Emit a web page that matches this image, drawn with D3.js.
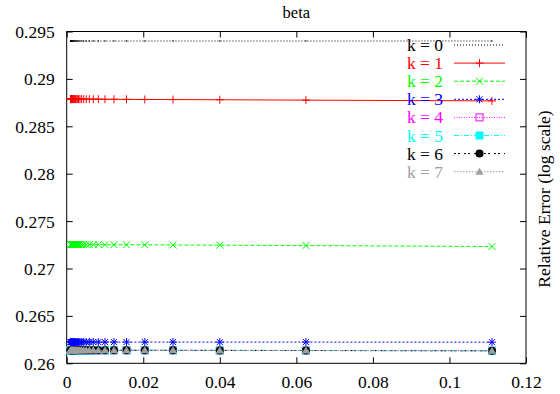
<!DOCTYPE html>
<html>
<head>
<meta charset="utf-8">
<script src="https://cdn.jsdelivr.net/npm/d3@7"></script>
<style>
  html, body { margin: 0; padding: 0; background: #fff; }
  svg { display: block; }
  svg text { font-family: "Liberation Serif", "Times New Roman", serif !important; }
</style>
</head>
<body>
<svg id="chart" width="560" height="394"></svg>
<script>
// ---- data ----
const title = "beta";
const yLabel = "Relative Error (log scale)";
const xTicks = [0, 0.02, 0.04, 0.06, 0.08, 0.1, 0.12];
const xTickLabels = ["0", "0.02", "0.04", "0.06", "0.08", "0.1", "0.12"];
const yTicks = [0.26, 0.265, 0.27, 0.275, 0.28, 0.285, 0.29, 0.295];
const yTickLabels = ["0.26", "0.265", "0.27", "0.275", "0.28", "0.285", "0.29", "0.295"];

const xValues = [0.11111, 0.0625, 0.04, 0.027778, 0.020408, 0.015625, 0.012346, 0.01,
  0.0082645, 0.0069444, 0.0059172, 0.0051020, 0.0044444, 0.0039063, 0.0034602, 0.0030864,
  0.0027701, 0.0025, 0.0022676, 0.0020661, 0.0018904, 0.0017361, 0.0016, 0.0014793,
  0.0013717, 0.0012755, 0.0011891, 0.0011111, 0.0010406, 0.00097656];

const seriesNames = ["k = 0", "k = 1", "k = 2", "k = 3", "k = 4", "k = 5", "k = 6", "k = 7"];

const k0 = [0.2940, 0.2940, 0.2940, 0.2940, 0.2940, 0.2940, 0.2940, 0.2940, 0.2940, 0.2940,
  0.2940, 0.2940, 0.2940, 0.2940, 0.2940, 0.2940, 0.2940, 0.2940, 0.2940, 0.2940,
  0.2940, 0.2940, 0.2940, 0.2940, 0.2940, 0.2940, 0.2940, 0.2940, 0.2940, 0.2940];
const k1 = [0.28768, 0.28776, 0.28780, 0.28782, 0.28783, 0.28784, 0.28785, 0.28785, 0.28786, 0.28786,
  0.28786, 0.28786, 0.28786, 0.28786, 0.28786, 0.28787, 0.28787, 0.28787, 0.28787, 0.28787,
  0.28787, 0.28787, 0.28787, 0.28787, 0.28787, 0.28787, 0.28787, 0.28787, 0.28787, 0.28787];
const k2 = [0.27232, 0.27242, 0.27246, 0.27248, 0.27250, 0.27250, 0.27251, 0.27251, 0.27252, 0.27252,
  0.27252, 0.27252, 0.27252, 0.27252, 0.27253, 0.27253, 0.27253, 0.27253, 0.27253, 0.27253,
  0.27253, 0.27253, 0.27253, 0.27253, 0.27253, 0.27253, 0.27253, 0.27253, 0.27253, 0.27253];
const k3 = [0.26223, 0.26224, 0.26224, 0.26224, 0.26224, 0.26224, 0.26224, 0.26224, 0.26224, 0.26224,
  0.26224, 0.26224, 0.26224, 0.26224, 0.26224, 0.26224, 0.26224, 0.26224, 0.26224, 0.26224,
  0.26224, 0.26224, 0.26224, 0.26224, 0.26224, 0.26224, 0.26224, 0.26224, 0.26224, 0.26224];
const k4 = [0.26132, 0.26135, 0.26136, 0.26137, 0.26137, 0.26137, 0.26137, 0.26137, 0.26137, 0.26137,
  0.26137, 0.26137, 0.26137, 0.26137, 0.26137, 0.26137, 0.26137, 0.26137, 0.26137, 0.26137,
  0.26137, 0.26137, 0.26137, 0.26137, 0.26137, 0.26137, 0.26137, 0.26137, 0.26137, 0.26137];
const k5 = [0.26132, 0.26135, 0.26136, 0.26136, 0.26137, 0.26137, 0.26137, 0.26137, 0.26137, 0.26137,
  0.26137, 0.26137, 0.26137, 0.26137, 0.26137, 0.26137, 0.26137, 0.26137, 0.26137, 0.26137,
  0.26137, 0.26137, 0.26137, 0.26137, 0.26137, 0.26137, 0.26137, 0.26137, 0.26137, 0.26137];
const k6 = [0.26132, 0.26135, 0.26136, 0.26137, 0.26137, 0.26137, 0.26137, 0.26137, 0.26137, 0.26137,
  0.26137, 0.26137, 0.26137, 0.26137, 0.26137, 0.26137, 0.26137, 0.26137, 0.26137, 0.26137,
  0.26137, 0.26137, 0.26137, 0.26137, 0.26137, 0.26137, 0.26137, 0.26137, 0.26137, 0.26137];
const k7 = [0.26132, 0.26135, 0.26136, 0.26137, 0.26137, 0.26137, 0.26137, 0.26137, 0.26137, 0.26137,
  0.26137, 0.26137, 0.26137, 0.26137, 0.26137, 0.26137, 0.26137, 0.26137, 0.26137, 0.26137,
  0.26137, 0.26137, 0.26137, 0.26137, 0.26137, 0.26137, 0.26137, 0.26137, 0.26137, 0.26137];
const seriesValues = [k0, k1, k2, k3, k4, k5, k6, k7];

// ---- styles ----
const colors = ["#000000", "#ff0000", "#00ff00", "#0000ff", "#ff00ff", "#00ffff", "#000000", "#a0a0a0"];
const dashes = ["1,2", null, "4,2", "2,2", "1,1.5", "5,2,1,2", "2,2,2,4", "1.5,1.5"];
const markers = ["dot", "plus", "cross", "star", "square", "fsquare", "circle", "triangle"];

const W = 560, H = 394;
const margin = { left: 66.7, right: 34, top: 31.5, bottom: 30.7 };
const FONT = "'Liberation Serif', 'Times New Roman', serif";
const svg = d3.select("#chart").style("font-family", FONT);

const x = d3.scaleLinear().domain([0, 0.12]).range([margin.left, W - margin.right]);
const y = d3.scaleLinear().domain([0.26, 0.295]).range([H - margin.bottom, margin.top]);

const fontSize = 17.5;

// axes (inward ticks)
const xAxis = d3.axisBottom(x).tickValues(xTicks).tickFormat((d, i) => xTickLabels[i])
  .tickSizeInner(-6).tickSizeOuter(0).tickPadding(12);
const yAxis = d3.axisLeft(y).tickValues(yTicks).tickFormat((d, i) => yTickLabels[i])
  .tickSizeInner(-6).tickSizeOuter(0).tickPadding(12);
const xAxisTop = d3.axisTop(x).tickValues(xTicks).tickFormat("").tickSizeInner(-6).tickSizeOuter(0);
const yAxisRight = d3.axisRight(y).tickValues(yTicks).tickFormat("").tickSizeInner(-6).tickSizeOuter(0);

function styleAxis(g) {
  g.attr("font-family", null).attr("font-size", null);
  g.select(".domain").remove();
  g.selectAll(".tick line").attr("stroke", "#000").attr("stroke-width", 1);
  g.selectAll(".tick text").attr("fill", "#000")
    .style("font-family", FONT).style("font-size", fontSize + "px");
}

svg.append("g").attr("transform", `translate(0,${y.range()[0]})`).call(xAxis).call(styleAxis)
  .selectAll(".tick text").attr("dy", null).attr("y", 24.5);
svg.append("g").attr("transform", `translate(${x.range()[0]},0)`).call(yAxis).call(styleAxis)
  .selectAll(".tick text").attr("dy", "0.34em");
svg.append("g").attr("transform", `translate(0,${y.range()[1]})`).call(xAxisTop).call(styleAxis);
svg.append("g").attr("transform", `translate(${x.range()[1]},0)`).call(yAxisRight).call(styleAxis);

// frame
svg.append("rect")
  .attr("x", x.range()[0]).attr("y", y.range()[1])
  .attr("width", x.range()[1] - x.range()[0]).attr("height", y.range()[0] - y.range()[1])
  .attr("fill", "none").attr("stroke", "#000").attr("stroke-width", 1);

// title and label
svg.append("text").attr("x", (x.range()[0] + x.range()[1]) / 2).attr("y", 17.5)
  .attr("text-anchor", "middle").style("font-size", "16.5px").attr("fill", "#000").text(title);
svg.append("text").attr("transform", "translate(550,199) rotate(-90)")
  .attr("text-anchor", "middle").style("font-size", fontSize + "px").attr("fill", "#000").text(yLabel);

function drawMarker(g, type, cx, cy, color) {
  const s = 4;
  switch (type) {
    case "dot":
      g.append("circle").attr("cx", cx).attr("cy", cy).attr("r", 0.7).attr("fill", color);
      break;
    case "plus":
      g.append("path").attr("d", `M${cx - s},${cy}H${cx + s}M${cx},${cy - s}V${cy + s}`)
        .attr("stroke", color).attr("stroke-width", 1).attr("fill", "none");
      break;
    case "cross":
      g.append("path").attr("d", `M${cx - 3.5},${cy - 3.5}L${cx + 3.5},${cy + 3.5}M${cx - 3.5},${cy + 3.5}L${cx + 3.5},${cy - 3.5}`)
        .attr("stroke", color).attr("stroke-width", 1).attr("fill", "none");
      break;
    case "star":
      g.append("path").attr("d", `M${cx - s},${cy}H${cx + s}M${cx},${cy - s}V${cy + s}M${cx - 3},${cy - 3}L${cx + 3},${cy + 3}M${cx - 3},${cy + 3}L${cx + 3},${cy - 3}`)
        .attr("stroke", color).attr("stroke-width", 1).attr("fill", "none");
      break;
    case "square":
      g.append("rect").attr("x", cx - 3.5).attr("y", cy - 3.5).attr("width", 7).attr("height", 7)
        .attr("stroke", color).attr("stroke-width", 1).attr("fill", "none");
      break;
    case "fsquare":
      g.append("rect").attr("x", cx - 4).attr("y", cy - 4).attr("width", 8).attr("height", 8)
        .attr("fill", color);
      break;
    case "circle":
      g.append("circle").attr("cx", cx).attr("cy", cy).attr("r", 4).attr("fill", color);
      break;
    case "triangle":
      g.append("path").attr("d", `M${cx},${cy - 4}L${cx + 4.2},${cy + 3}L${cx - 4.2},${cy + 3}Z`)
        .attr("fill", color);
      break;
  }
}

const line = d3.line().x(d => x(d[0])).y(d => y(d[1]));
const legendX = { textRight: 443, lineStart: 454, lineEnd: 505, marker: 479.5 };
const legendY0 = 45, legendDy = 18.1;

seriesValues.forEach((vals, i) => {
  const pts = xValues.map((xv, j) => [xv, vals[j]]).sort((a, b) => a[0] - b[0]);
  const g = svg.append("g");
  const p = g.append("path").datum(pts).attr("d", line)
    .attr("fill", "none").attr("stroke", colors[i]).attr("stroke-width", 1);
  if (dashes[i]) p.attr("stroke-dasharray", dashes[i]);
  pts.forEach(d => drawMarker(g, markers[i], x(d[0]), y(d[1]), colors[i]));

  // legend entry
  const ly = legendY0 + i * legendDy;
  g.append("text").attr("x", legendX.textRight).attr("y", ly + 6)
    .attr("text-anchor", "end").style("font-size", fontSize + "px").attr("fill", colors[i]).text(seriesNames[i]);
  const ll = g.append("line").attr("x1", legendX.lineStart).attr("x2", legendX.lineEnd)
    .attr("y1", ly).attr("y2", ly).attr("stroke", colors[i]).attr("stroke-width", 1);
  if (dashes[i]) ll.attr("stroke-dasharray", dashes[i]);
  if (markers[i] !== "dot") drawMarker(g, markers[i], legendX.marker, ly, colors[i]);
});
</script>
</body>
</html>
